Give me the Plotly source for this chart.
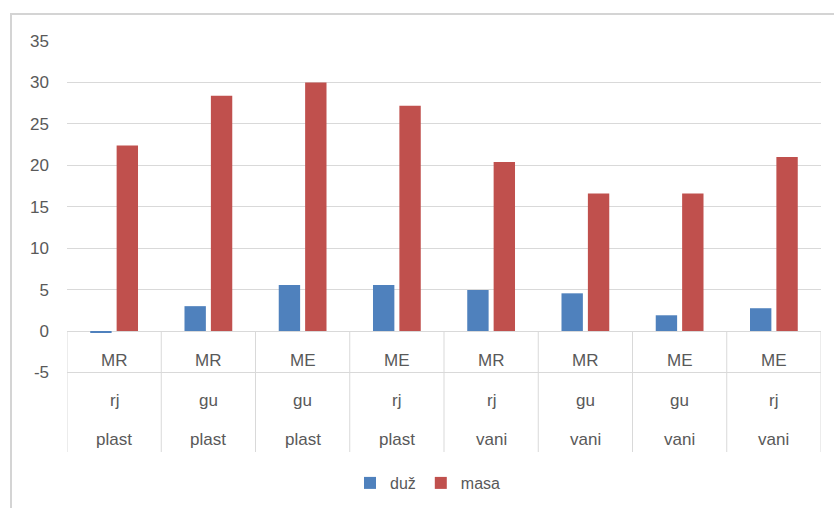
import plotly.graph_objects as go

level1 = ["MR", "MR", "ME", "ME", "MR", "MR", "ME", "ME"]
level2 = ["rj", "gu", "gu", "rj", "rj", "gu", "gu", "rj"]
level3 = ["plast", "plast", "plast", "plast", "vani", "vani", "vani", "vani"]
duz = [-0.2, 3.0, 5.55, 5.55, 4.95, 4.55, 1.9, 2.75]
masa = [22.4, 28.4, 30.0, 27.2, 20.4, 16.6, 16.6, 21.0]
y_ticks = [-5, 0, 5, 10, 15, 20, 25, 30, 35]

W, H = 834, 508
ML, MR_, MT, MB = 67, 13, 41, 56
PW, PH = W - ML - MR_, H - MT - MB

x = list(range(len(level1)))
gray = "#595959"
grid = "#d9d9d9"
FONT = "Liberation Sans, Arial, sans-serif"

fig = go.Figure()
fig.add_trace(go.Bar(x=x, y=duz, name="duž", marker=dict(color="#4f81bd", line=dict(width=0))))
fig.add_trace(go.Bar(x=x, y=masa, name="masa", marker=dict(color="#c0504d", line=dict(width=0))))

y_bottom = -14.6
shapes = []
for i in range(len(level1) + 1):
    shapes.append(dict(type="line", xref="x", yref="y", x0=i - 0.5, x1=i - 0.5,
                       y0=0, y1=y_bottom, line=dict(color=grid, width=1), layer="below"))

def px2paper_x(px):
    return (px - ML) / PW

def px2paper_y(py):
    return (H - MB - py) / PH

# outer chart border (left and top)
shapes.append(dict(type="line", xref="paper", yref="paper",
                   x0=px2paper_x(11), x1=px2paper_x(11), y0=px2paper_y(14), y1=px2paper_y(520),
                   line=dict(color="#d4d4d4", width=2)))
shapes.append(dict(type="line", xref="paper", yref="paper",
                   x0=px2paper_x(10), x1=px2paper_x(845), y0=px2paper_y(14), y1=px2paper_y(14),
                   line=dict(color="#d4d4d4", width=2)))

annotations = []
for i in x:
    for lab, yy in ((level1[i], -3.5), (level2[i], -8.33), (level3[i], -13.15)):
        annotations.append(dict(x=i, y=yy, xref="x", yref="y", text=lab, showarrow=False,
                                font=dict(family=FONT, size=17, color=gray),
                                xanchor="center", yanchor="middle"))

fig.update_layout(
    width=W, height=H,
    margin=dict(l=ML, r=MR_, t=MT, b=MB, pad=0, autoexpand=False),
    paper_bgcolor="white", plot_bgcolor="white",
    barmode="group", bargap=0.44, bargroupgap=0.19,
    font=dict(family=FONT, color=gray),
    showlegend=True,
    legend=dict(orientation="h", x=px2paper_x(428), xanchor="center",
                y=px2paper_y(483), yanchor="middle",
                font=dict(family=FONT, size=16, color=gray),
                itemsizing="constant", traceorder="normal"),
    shapes=shapes, annotations=annotations,
)
fig.update_xaxes(range=[-0.5, 7.5], showticklabels=False, showgrid=False, zeroline=False,
                 showline=False, ticks="")
fig.update_yaxes(range=[y_bottom, 35], tickvals=y_ticks, ticktext=[str(v) for v in y_ticks],
                 showgrid=True, gridcolor=grid, gridwidth=1, zeroline=False, showline=False,
                 ticks="", ticklabelstandoff=17,
                 tickfont=dict(family=FONT, size=17, color=gray))

fig.write_html("out.html", config={"displayModeBar": False},
               post_script="document.body.style.margin='0';document.body.style.overflow='hidden';")
